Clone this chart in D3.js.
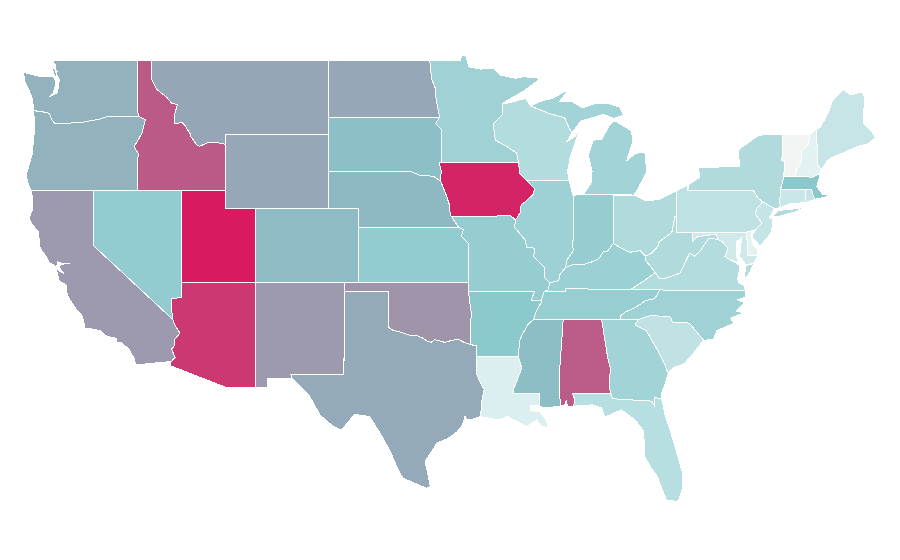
<!DOCTYPE html>
<html>
<head>
<meta charset="utf-8">
<script src="https://d3js.org/d3.v7.min.js"></script>
<style>
  body { margin: 0; background: #fff; }
  path { stroke: #fff; stroke-width: 1; shape-rendering: crispEdges; }
</style>
</head>
<body>
<svg id="map" width="900" height="560"></svg>
<script>
var states = ["WA","OR","CA","NV","ID","UT","AZ","MT","WY","CO","NM","ND","SD","NE","KS","OK","TX",
  "MN","IA","MO","AR","LA","WI","IL","MS","MI","IN","KY","TN","AL","OH","WV","VA","NC","SC","GA","FL",
  "PA","NY","MD","DE","NJ","CT","RI","MA","VT","NH","ME"];

// 0 is the palest state and 100 the strongest
var values = [56, 56, 63, 45, 82, 100, 91.6, 59.6, 59.3, 53.5, 63.4, 59, 52.3, 54, 45, 64.8, 58.4,
  39, 97, 44, 48, 11, 30, 40, 53, 38, 44, 41, 43, 81.4, 31, 31, 30, 39, 23.4, 38, 28,
  25, 31, 17, 7, 22, 20, 22, 49, 1, 7.4, 20.6];

// lon, lat rings for each state, same order as states
var outlines = [
  [[[-122.76,49],[-122.55,48.75],[-122.55,48.4],[-122.3,48],[-122.35,47.6],[-122.45,47.25],[-122.95,47.05],[-122.7,47.3],[-122.55,47.65],[-122.6,48.05],[-122.75,48.15],[-123.1,48.15],[-123.7,48.17],[-124.72,48.38],[-124.65,47.9],[-124.3,47.3],[-124.1,46.9],[-124.05,46.3],[-123.5,46.25],[-122.95,46.15],[-122.85,45.85],[-122.6,45.6],[-122.03,45.6],[-121.2,45.65],[-120.9,45.65],[-120,45.78],[-119.55,45.85],[-119,46],[-116.92,46],[-117.04,46.42],[-117.04,49]],
   [[-122.75,48.6],[-122.45,48.45],[-122.5,48.1],[-122.7,48.3]]],
  [[[-124.05,46.3],[-123.5,46.25],[-122.95,46.15],[-122.85,45.85],[-122.6,45.6],[-122.03,45.6],[-121.2,45.65],[-120.9,45.65],[-120,45.78],[-119.55,45.85],[-119,46],[-116.92,46],[-116.48,45.8],[-116.7,45.1],[-116.97,44.7],[-117.24,44.35],[-116.9,43.9],[-117.03,43.7],[-117.03,42],[-124.2,42],[-124.4,42.3],[-124.55,42.85],[-124.4,43.2],[-124.15,43.9],[-124.05,44.7],[-123.95,45.5]]],
  [[[-124.2,42],[-124.1,41.5],[-124.1,41],[-124.35,40.44],[-124.1,40.1],[-123.72,39.75],[-123.6,38.87],[-123.2,38.4],[-122.95,38.05],[-122.6,37.9],[-122.5,37.82],[-122.4,38.1],[-122.2,38.05],[-121.6,38.05],[-122.1,37.98],[-122.35,37.9],[-122.2,37.7],[-122,37.5],[-122.3,37.6],[-122.45,37.78],[-122.52,37.7],[-122.4,37.4],[-122.3,37.05],[-122.0,36.95],[-121.8,36.8],[-121.8,36.43],[-121.58,36.05],[-121.2,35.6],[-120.8,35.24],[-120.65,34.9],[-120.56,34.5],[-120,34.47],[-119.5,34.38],[-119.2,34.13],[-118.8,34.02],[-118.4,33.97],[-118.4,33.75],[-118.1,33.72],[-117.6,33.4],[-117.25,32.9],[-117.12,32.53],[-114.72,32.72],[-114.47,32.93],[-114.52,33.03],[-114.7,33.4],[-114.53,33.55],[-114.5,33.9],[-114.13,34.27],[-114.43,34.6],[-114.63,35],[-120,39],[-120,42]]],
  [[[-120,42],[-114.04,42],[-114.04,36.2],[-114.4,36.15],[-114.74,36.1],[-114.7,35.6],[-114.63,35],[-120,39]]],
  [[[-117.04,49],[-116.05,49],[-116.05,48],[-115.7,47.45],[-115,47],[-114.7,46.7],[-114.3,46.63],[-114.5,46.1],[-114.5,45.6],[-114,45.65],[-113.8,45.5],[-113.45,45.05],[-113.45,44.95],[-113,44.45],[-112.8,44.37],[-112.3,44.55],[-111.5,44.55],[-111.05,44.48],[-111.05,42],[-117.03,42],[-117.03,43.7],[-116.9,43.9],[-117.24,44.35],[-116.97,44.7],[-116.7,45.1],[-116.48,45.8],[-116.92,46],[-117.04,46.42]]],
  [[[-114.04,42],[-111.05,42],[-111.05,41],[-109.05,41],[-109.05,37],[-114.04,37]]],
  [[[-114.63,35],[-114.7,35.6],[-114.74,36.1],[-114.4,36.15],[-114.05,36.2],[-114.04,37],[-109.05,37],[-109.05,31.33],[-111.07,31.33],[-114.81,32.5],[-114.72,32.72],[-114.47,32.93],[-114.52,33.03],[-114.7,33.4],[-114.53,33.55],[-114.5,33.9],[-114.13,34.27],[-114.43,34.6]]],
  [[[-116.05,49],[-104.05,49],[-104.05,45],[-111.05,45],[-111.05,44.48],[-111.5,44.55],[-112.3,44.55],[-112.8,44.37],[-113,44.45],[-113.45,44.95],[-113.45,45.05],[-113.8,45.5],[-114,45.65],[-114.5,45.6],[-114.5,46.1],[-114.3,46.63],[-114.7,46.7],[-115,47],[-115.7,47.45],[-116.05,48]]],
  [[[-111.05,45],[-104.05,45],[-104.05,41],[-111.05,41]]],
  [[[-109.05,41],[-102.05,41],[-102.05,37],[-109.05,37]]],
  [[[-109.05,37],[-103,37],[-103.04,32],[-106.62,32],[-106.53,31.78],[-108.21,31.78],[-108.21,31.33],[-109.05,31.33]]],
  [[[-104.05,49],[-97.23,49],[-97.1,48],[-96.85,47.5],[-96.8,46.9],[-96.56,45.94],[-104.05,45.94]]],
  [[[-104.05,45.94],[-96.56,45.94],[-96.85,45.6],[-96.45,45.3],[-96.45,43.5],[-96.6,43.5],[-96.45,43.05],[-96.5,42.5],[-97,42.75],[-97.9,42.8],[-98.5,43],[-104.05,43]]],
  [[[-104.05,43],[-98.5,43],[-97.9,42.8],[-97,42.75],[-96.5,42.5],[-96.25,42],[-96.1,41.7],[-95.9,41.2],[-95.85,40.7],[-95.3,40],[-102.05,40],[-102.05,41],[-104.05,41]]],
  [[[-102.05,40],[-95.3,40],[-94.95,39.85],[-95.1,39.5],[-94.61,39.1],[-94.62,37],[-102.05,37]]],
  [[[-103,37],[-94.62,37],[-94.43,35.4],[-94.48,33.64],[-94.9,33.75],[-95.2,33.88],[-95.5,33.9],[-95.8,33.85],[-96.2,33.75],[-96.5,33.82],[-96.9,33.9],[-97.15,33.75],[-97.4,33.82],[-97.7,33.98],[-98.1,34.13],[-98.6,34.15],[-99.2,34.3],[-99.7,34.4],[-100,34.56],[-100,36.5],[-103,36.5]]],
  [[[-103,36.5],[-100,36.5],[-100,34.56],[-99.7,34.4],[-99.2,34.3],[-98.6,34.15],[-98.1,34.13],[-97.7,33.98],[-97.4,33.82],[-97.15,33.75],[-96.9,33.9],[-96.5,33.82],[-96.2,33.75],[-95.8,33.85],[-95.5,33.9],[-95.2,33.88],[-94.9,33.75],[-94.48,33.64],[-94.04,33.55],[-94.04,32],[-93.8,31.55],[-93.55,31.2],[-93.7,30.6],[-93.75,30.1],[-93.84,29.73],[-94.3,29.6],[-94.72,29.55],[-94.85,29.75],[-95,29.3],[-95.4,28.9],[-96,28.55],[-96.75,28.3],[-97.1,27.85],[-97.55,27.3],[-97.35,26.6],[-97.2,25.96],[-97.44,25.85],[-99.04,26.4],[-99.36,26.83],[-99.9,27.84],[-100.6,28.85],[-101.3,29.73],[-102.3,29.86],[-102.8,29.4],[-103.2,29],[-103.76,29.2],[-104.66,29.82],[-105.4,30.9],[-106.53,31.78],[-106.62,32],[-103.04,32]]],
  [[[-97.23,49],[-95.15,49],[-95.08,49.3],[-94.8,49.3],[-94.6,48.68],[-93.8,48.55],[-92.95,48.6],[-92.48,48.23],[-91.4,48.05],[-90.9,48.14],[-89.73,48.05],[-90.8,47.4],[-92.3,46.7],[-92.3,46.1],[-92.93,45.6],[-92.8,44.7],[-91.9,44.3],[-91.35,44],[-91.22,43.5],[-96.45,43.5],[-96.45,45.3],[-96.85,45.6],[-96.56,45.94],[-96.8,46.9],[-96.85,47.5],[-97.1,48]]],
  [[[-96.45,43.5],[-91.22,43.5],[-91.15,42.9],[-90.65,42.5],[-90.15,42.1],[-90.2,41.8],[-90.65,41.45],[-91.05,41.2],[-91.1,40.8],[-91.42,40.38],[-91.73,40.6],[-95.77,40.58],[-95.85,40.7],[-95.9,41.2],[-96.1,41.7],[-96.25,42],[-96.5,42.5],[-96.45,43.05],[-96.6,43.5]]],
  [[[-95.77,40.58],[-91.73,40.6],[-91.42,40.38],[-91.5,40],[-90.73,39.25],[-90.7,38.9],[-90.12,38.85],[-90.2,38.4],[-89.5,37.85],[-89.5,37.3],[-89.13,36.98],[-89.2,36.6],[-89.5,36.5],[-89.7,36],[-90.37,36],[-90.15,36.5],[-94.62,36.5],[-94.62,39.1],[-95.1,39.5],[-94.95,39.85],[-95.3,40]]],
  [[[-94.62,36.5],[-90.15,36.5],[-90.37,36],[-89.7,36],[-89.7,35.9],[-90.05,35.4],[-90.2,35],[-90.56,34.75],[-90.95,34.2],[-91.13,33.88],[-91.24,33.07],[-91.24,33],[-94.04,33],[-94.04,33.55],[-94.48,33.64],[-94.43,35.4]]],
  [[[-94.04,33],[-91.24,33],[-91,32.35],[-91.57,31.2],[-91.6,31],[-89.78,31],[-89.78,30.3],[-90.4,30.35],[-90.4,30.05],[-89.8,30],[-89.35,29.55],[-89.2,29.1],[-89.7,29.25],[-90,29.55],[-90.67,29.2],[-91.4,29.5],[-92,29.75],[-92.5,29.55],[-93.84,29.73],[-93.75,30.1],[-93.7,30.6],[-93.55,31.2],[-93.8,31.55],[-94.04,32]]],
  [[[-92.3,46.7],[-92,46.7],[-91.2,46.87],[-90.75,46.95],[-90.4,46.55],[-89.1,46.13],[-88.1,45.92],[-87.8,45.35],[-87.6,45.1],[-87.97,44.6],[-87.4,44.9],[-87.07,45.35],[-87.5,44.3],[-87.75,43.7],[-87.9,43],[-87.8,42.5],[-90.65,42.5],[-91.15,42.9],[-91.22,43.5],[-91.35,44],[-91.9,44.3],[-92.8,44.7],[-92.93,45.6],[-92.3,46.1]]],
  [[[-90.65,42.5],[-87.8,42.5],[-87.55,41.75],[-87.53,41.7],[-87.53,39.3],[-87.6,39],[-87.5,38.75],[-87.95,38.2],[-88.05,37.8],[-88.45,37.4],[-88.5,37.1],[-89.13,36.98],[-89.5,37.3],[-89.5,37.85],[-90.2,38.4],[-90.12,38.85],[-90.7,38.9],[-90.73,39.25],[-91.5,40],[-91.42,40.38],[-91.1,40.8],[-91.05,41.2],[-90.65,41.45],[-90.2,41.8],[-90.15,42.1]]],
  [[[-90.2,35],[-88.2,35],[-88.47,31.9],[-88.4,30.3],[-89.5,30.2],[-89.78,30.3],[-89.78,31],[-91.6,31],[-91.57,31.2],[-91,32.35],[-91.24,33],[-91.24,33.07],[-91.13,33.88],[-90.95,34.2],[-90.56,34.75]]],
  [[[-86.82,41.76],[-84.8,41.76],[-83.4,41.73],[-83.15,42.05],[-83,42.3],[-82.55,43],[-82.67,44],[-82.95,44.05],[-83.35,43.95],[-83.9,43.6],[-83.5,44.6],[-83.57,45.2],[-84.7,45.75],[-85,45.6],[-85.6,44.75],[-86.17,44.7],[-86.5,43.9],[-86.25,43],[-86.3,42.4]],
   [[-90.4,46.55],[-89.1,46.13],[-88.1,45.92],[-87.8,45.35],[-87.6,45.1],[-87,45.75],[-86.5,45.85],[-85.5,46.1],[-84.75,45.88],[-84.1,46.06],[-84.4,46.5],[-85.15,46.7],[-86.1,46.67],[-86.9,46.45],[-87.6,46.8],[-88.45,46.8],[-87.87,47.42],[-89,46.95],[-89.6,46.85]]],
  [[[-87.53,41.7],[-87.2,41.75],[-86.82,41.76],[-84.8,41.76],[-84.81,39.1],[-85.2,38.7],[-85.45,38.7],[-85.8,38.28],[-86.3,38.1],[-86.8,37.98],[-87.6,37.95],[-88.05,37.8],[-87.95,38.2],[-87.5,38.75],[-87.6,39],[-87.53,39.3]]],
  [[[-89.5,36.5],[-89.2,36.6],[-89.13,36.98],[-88.5,37.1],[-88.45,37.4],[-88.05,37.8],[-87.6,37.95],[-86.8,37.98],[-86.3,38.1],[-85.8,38.28],[-85.45,38.7],[-85.2,38.7],[-84.81,39.1],[-84.25,38.85],[-83.7,38.63],[-83,38.72],[-82.6,38.42],[-82.6,38.17],[-81.97,37.54],[-82.7,37.1],[-83.68,36.6],[-86,36.63],[-88.07,36.68],[-88.07,36.5]]],
  [[[-90.2,35],[-88.2,35],[-85.6,34.98],[-84.32,34.99],[-84.3,35.2],[-84,35.4],[-83.5,35.57],[-83,35.8],[-82.6,36.03],[-82,36.12],[-81.68,36.59],[-83.68,36.6],[-86,36.63],[-88.07,36.68],[-88.07,36.5],[-89.5,36.5],[-89.7,36],[-89.7,35.9],[-90.05,35.4]]],
  [[[-88.2,35],[-85.6,34.98],[-85.18,32.87],[-85,32.3],[-85.1,31.55],[-85,31],[-87.6,31],[-87.4,30.65],[-87.5,30.3],[-87.9,30.25],[-88,30.6],[-88.1,30.35],[-88.4,30.3],[-88.47,31.9]]],
  [[[-84.8,41.7],[-83.4,41.73],[-82.7,41.45],[-82.1,41.46],[-81.7,41.5],[-80.52,41.98],[-80.52,40.64],[-80.65,40.55],[-80.85,39.7],[-81.7,39.2],[-81.8,38.95],[-82.2,38.6],[-82.6,38.42],[-83,38.72],[-83.7,38.63],[-84.25,38.85],[-84.81,39.1]]],
  [[[-80.52,40.64],[-80.52,39.72],[-79.48,39.72],[-79.48,39.2],[-79.1,39.47],[-78.45,39.55],[-77.85,39.6],[-77.72,39.32],[-78.35,39.4],[-78.87,38.77],[-79.3,38.42],[-79.65,38.58],[-80.3,37.5],[-81.22,37.24],[-81.68,37.2],[-81.97,37.54],[-82.6,38.17],[-82.6,38.42],[-82.2,38.6],[-81.8,38.95],[-81.7,39.2],[-80.85,39.7],[-80.65,40.55]]],
  [[[-77.72,39.32],[-77.46,39.22],[-77.05,38.85],[-77.25,38.4],[-76.95,38.25],[-76.3,37.95],[-76.3,37.6],[-76.4,37.2],[-76.3,36.95],[-75.98,36.85],[-75.87,36.55],[-81.68,36.59],[-83.68,36.6],[-82.7,37.1],[-81.97,37.54],[-81.68,37.2],[-81.22,37.24],[-80.3,37.5],[-79.65,38.58],[-79.3,38.42],[-78.87,38.77],[-78.35,39.4]],
   [[-75.95,37.15],[-75.85,37.9],[-75.3,38.03],[-75.6,37.5]]],
  [[[-81.68,36.59],[-75.87,36.55],[-75.9,36.2],[-76.4,36.05],[-75.9,35.9],[-76.5,35.45],[-76,35.35],[-76.9,35.05],[-76.6,34.8],[-77.8,34.4],[-78.05,33.9],[-78.7,33.87],[-79.67,34.8],[-80.78,34.82],[-80.93,35.1],[-81.04,35.15],[-82.3,35.2],[-83.1,35],[-84.32,34.99],[-84.3,35.2],[-84,35.4],[-83.5,35.57],[-83,35.8],[-82.6,36.03],[-82,36.12]]],
  [[[-83.1,35],[-82.3,35.2],[-81.04,35.15],[-80.93,35.1],[-80.78,34.82],[-79.67,34.8],[-78.7,33.87],[-79.4,33.15],[-80,32.6],[-80.7,32.4],[-81.1,32.07],[-81.4,32.7],[-81.9,33.45],[-82.6,34.4],[-83.35,34.7]]],
  [[[-85.6,34.98],[-84.32,34.99],[-83.1,35],[-83.35,34.7],[-82.6,34.4],[-81.9,33.45],[-81.4,32.7],[-81.1,32.07],[-81.3,31.5],[-81.55,31],[-81.55,30.72],[-82.05,30.75],[-82.05,30.36],[-82.2,30.57],[-84.86,30.7],[-85,31],[-85.1,31.55],[-85,32.3],[-85.18,32.87]]],
  [[[-87.6,31],[-85,31],[-84.86,30.7],[-82.2,30.57],[-82.05,30.36],[-82.05,30.75],[-81.55,30.72],[-81.3,29.8],[-80.76,28.47],[-80.12,26.66],[-80.13,25.8],[-80.4,25.2],[-80.53,25.15],[-81.2,25.2],[-81.88,26.57],[-82.3,27],[-82.67,27.56],[-82.67,28.1],[-82.8,29],[-83.4,29.6],[-84.25,30.1],[-85.4,29.7],[-85.6,30.2],[-86.2,30.37],[-87.5,30.3],[-87.4,30.65]]],
  [[[-80.52,41.98],[-79.76,42.27],[-79.76,42],[-75.35,42],[-75.05,41.6],[-74.7,41.36],[-75.1,41],[-75.2,40.7],[-74.75,40.2],[-75.15,39.88],[-75.42,39.8],[-75.79,39.72],[-80.52,39.72]]],
  [[[-79.74,42.27],[-79.76,42],[-75.35,42],[-75.05,41.6],[-74.7,41.36],[-73.9,41],[-73.65,41],[-73.49,41.2],[-73.55,41.3],[-73.49,42.05],[-73.26,42.75],[-73.25,43.55],[-73.4,43.6],[-73.35,45],[-74.7,45],[-75.1,44.9],[-76.36,44.17],[-76.25,43.27],[-77.6,43.25],[-79.07,43.2],[-78.95,42.7]],
   [[-74.02,40.6],[-73.6,40.9],[-72.6,40.98],[-71.87,41.07],[-72.5,40.82],[-73.6,40.58]]],
  [[[-79.48,39.72],[-75.79,39.72],[-75.7,38.46],[-75.05,38.45],[-75.3,38.03],[-75.85,37.95],[-76.25,38.4],[-76.2,39],[-76.1,39.45],[-76.45,39.2],[-76.5,38.9],[-76.45,38.35],[-76.3,38.05],[-76.95,38.25],[-77.25,38.4],[-77.05,38.85],[-77.46,39.22],[-77.72,39.32],[-77.85,39.6],[-78.45,39.55],[-79.1,39.47],[-79.48,39.2]]],
  [[[-75.79,39.72],[-75.42,39.8],[-75.5,39.5],[-75.35,39.05],[-75.05,38.78],[-75.05,38.45],[-75.7,38.46]]],
  [[[-74.7,41.36],[-73.9,41],[-74.25,40.5],[-74,40.45],[-74.1,39.75],[-74.4,39.4],[-74.9,38.95],[-75.1,39.2],[-75.45,39.5],[-75.15,39.88],[-74.75,40.2],[-75.2,40.7],[-75.1,41]]],
  [[[-73.49,42.05],[-71.8,42.02],[-71.79,41.6],[-71.85,41.32],[-72.9,41.25],[-73.65,41],[-73.49,41.2],[-73.55,41.3]]],
  [[[-71.8,42.02],[-71.38,42.02],[-71.3,41.75],[-71.15,41.5],[-71.85,41.32],[-71.79,41.6]]],
  [[[-73.49,42.05],[-73.26,42.75],[-71.3,42.7],[-70.92,42.85],[-70.83,42.72],[-71.04,42.2],[-70.63,41.75],[-70.1,41.72],[-70.6,41.6],[-71.15,41.5],[-71.3,41.75],[-71.38,42.02],[-71.8,42.02]]],
  [[[-73.35,45],[-71.5,45],[-71.6,44.5],[-72.05,44.1],[-72.05,43.6],[-72.45,43],[-72.46,42.73],[-73.26,42.75],[-73.25,43.55],[-73.4,43.6]]],
  [[[-71.5,45],[-71.08,45.3],[-71.03,44.6],[-70.98,43.4],[-70.75,43.1],[-70.92,42.85],[-71.3,42.7],[-72.46,42.73],[-72.45,43],[-72.05,43.6],[-72.05,44.1],[-71.6,44.5]]],
  [[[-71.08,45.3],[-70.8,45.4],[-70.2,46.3],[-69.95,46.9],[-69.23,47.46],[-68.8,47.15],[-68,47.3],[-67.8,47.07],[-67.9,45.6],[-67.45,45.3],[-67.05,44.85],[-67.6,44.5],[-68.35,44.35],[-69,44.1],[-69.92,43.8],[-70.3,43.6],[-70.75,43.1],[-70.98,43.4],[-71.03,44.6]]]
];

var x = d3.scaleLinear().domain([-120, -80.52]).range([93.3, 676.7]);
var y = d3.scaleLinear().domain([49, 25.12]).range([60.8, 501.8]);

var color = d3.scaleLinear()
  .domain([0, 10, 50, 100])
  .range(["#f5f5f5", "#def0f1", "#88c7cb", "#d81b60"]);

// the map is plain lon/lat stretched on both axes, so no real projection here
var flat = d3.geoTransform({
  point: function(lon, lat) { this.stream.point(x(lon), y(lat)); }
});
var path = d3.geoPath(flat);

var features = states.map(function(d, i) {
  return {
    type: "Feature",
    id: d,
    properties: { value: values[i] },
    geometry: { type: "MultiPolygon", coordinates: outlines[i].map(function(ring) { return [ring.concat([ring[0]])]; }) }
  };
});

d3.select("#map").selectAll("path")
  .data(features)
  .enter().append("path")
  .attr("d", path)
  .attr("fill", function(d) { return color(d.properties.value); });
</script>
</body>
</html>
